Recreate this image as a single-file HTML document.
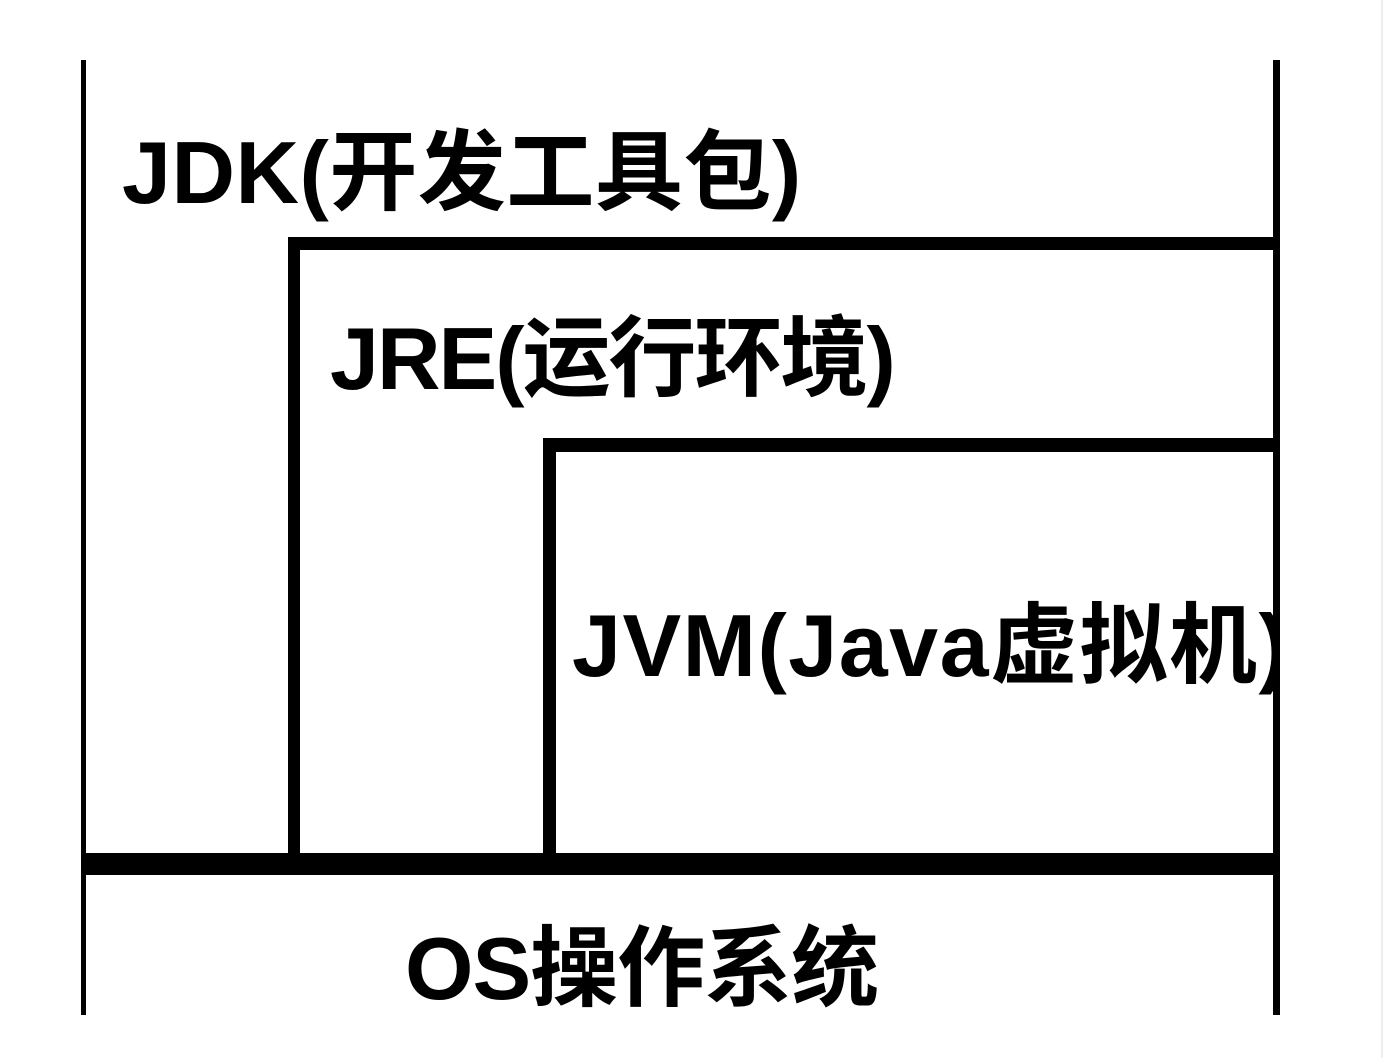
<!DOCTYPE html>
<html><head><meta charset="utf-8"><style>
html,body{margin:0;padding:0;background:#fff;}
body{width:1396px;height:1058px;position:relative;overflow:hidden;font-family:"Liberation Sans","Noto Sans CJK SC",sans-serif;font-weight:bold;color:#000;}
.b{position:absolute;background:#000;}
.t{position:absolute;font-size:88px;line-height:1;white-space:nowrap;letter-spacing:-1px;}
</style></head><body>
<div class="b" style="left:81px;top:60px;width:5px;height:955px"></div>
<div class="b" style="left:1273px;top:60px;width:7px;height:955px"></div>
<div class="b" style="left:288px;top:237px;width:12px;height:620px"></div>
<div class="b" style="left:288px;top:237px;width:990px;height:13px"></div>
<div class="b" style="left:543px;top:438px;width:13px;height:420px"></div>
<div class="b" style="left:543px;top:438px;width:735px;height:14px"></div>
<div class="b" style="left:81px;top:853px;width:1199px;height:22px"></div>
<div style="position:absolute;left:1381px;top:0;width:2px;height:1058px;background:#eee"></div>
<div class="t" style="left:122px;top:129px;letter-spacing:0.5px">JDK(开发工具包)</div>
<div class="t" style="left:330px;top:315px;letter-spacing:-2px">JRE(运行环境)</div>
<div style="position:absolute;left:556px;top:560px;width:717px;height:150px;overflow:hidden">
<div class="t" style="left:16px;top:42px;letter-spacing:1.5px">JVM(Java虚拟机)</div></div>
<div class="t" style="left:405px;top:925px">OS操作系统</div>
</body></html>
